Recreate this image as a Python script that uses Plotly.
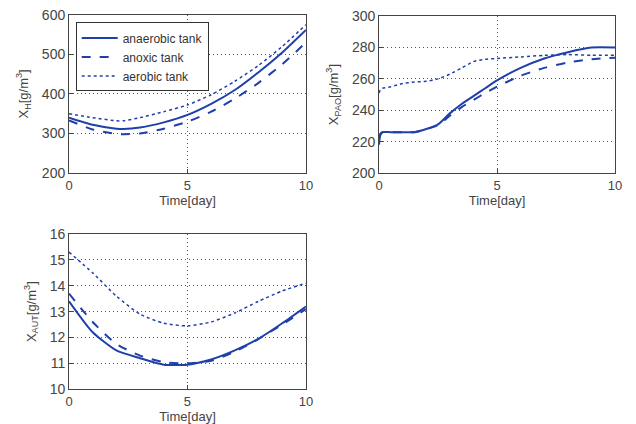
import plotly.graph_objects as go

# ---- data ----
t_h = [0, 1, 2, 2.3, 3, 4, 5, 6, 7, 8, 9, 10]
xh_anaerobic = [340, 322, 312, 311, 315, 328, 347, 375, 410, 455, 505, 562]
xh_anoxic = [333, 310, 299, 298, 300, 312, 330, 355, 388, 428, 475, 530]
xh_aerobic = [350, 340, 332, 332, 340, 355, 372, 398, 432, 472, 520, 575]

t_pao = [0, 0.05, 0.15, 0.5, 1, 1.5, 2, 2.5, 3, 3.5, 4, 4.5, 5, 6, 7, 8, 9, 10]
xpao_anaerobic = [218, 224, 226, 226, 226, 226, 228, 231, 238, 244, 249, 254, 259, 267, 273, 277, 280, 280]
xpao_anoxic = [222, 225, 226, 226, 226, 226, 228, 230.5, 236.5, 242, 246.5, 251, 255, 262, 267, 270.5, 272.5, 273.5]
xpao_aerobic = [251, 253, 254, 255, 257, 258, 258.5, 260, 263, 267, 271, 272.5, 273, 274, 275, 275.5, 275, 275]

t_aut = [0, 1, 2, 3, 4, 5, 6, 7, 8, 9, 10]
xaut_anaerobic = [13.4, 12.2, 11.5, 11.2, 10.95, 10.95, 11.15, 11.5, 11.95, 12.55, 13.2]
xaut_anoxic = [13.7, 12.6, 11.75, 11.3, 11.05, 11.0, 11.1, 11.45, 11.95, 12.5, 13.1]
xaut_aerobic = [15.3, 14.5, 13.6, 12.9, 12.55, 12.45, 12.6, 12.95, 13.4, 13.8, 14.1]

series_names = ["anaerobic tank", "anoxic tank", "aerobic tank"]
x_ticks = [0, 5, 10]

BLUE = "#1f40aa"
styles = [dict(dash="solid", width=2), dict(dash="dash", width=2), dict(dash="dot", width=1.5)]

fig = go.Figure()

panels = [
    ("x", "y", t_h, [xh_anaerobic, xh_anoxic, xh_aerobic]),
    ("x2", "y2", t_pao, [xpao_anaerobic, xpao_anoxic, xpao_aerobic]),
    ("x3", "y3", t_aut, [xaut_anaerobic, xaut_anoxic, xaut_aerobic]),
]
for i, (xa, ya, t, ys) in enumerate(panels):
    for name, yv, st in zip(series_names, ys, styles):
        fig.add_trace(go.Scatter(
            x=t, y=yv, mode="lines", name=name, xaxis=xa, yaxis=ya,
            line=dict(color=BLUE, shape="spline", smoothing=0.6, **st),
            showlegend=(i == 0),
        ))

font = dict(family="Liberation Sans, Arial", size=14, color="#444")
xfont = dict(family="Liberation Sans, Arial", size=13, color="#444")
tfont = dict(family="Liberation Sans, Arial", size=13, color="#444")
common_x = dict(range=[0, 10], tickvals=x_ticks, showline=True, linecolor="#444",
                linewidth=1, mirror=True, ticks="inside", ticklen=4, tickcolor="#444",
                showgrid=True, gridcolor="#555", griddash="1px,3px", gridwidth=1,
                zeroline=False, tickfont=xfont, automargin=False,
                title=dict(text="Time[day]", font=tfont, standoff=1))
common_y = dict(showline=True, linecolor="#444", linewidth=1, mirror=True,
                ticks="inside", ticklen=4, tickcolor="#444",
                showgrid=True, gridcolor="#555", griddash="1px,3px", gridwidth=1,
                zeroline=False, tickfont=font, automargin=False)

fig.update_layout(
    width=636, height=424,
    paper_bgcolor="white", plot_bgcolor="white",
    margin=dict(l=0, r=0, t=0, b=0, autoexpand=False),
    font=font,
    xaxis=dict(domain=[0.1085, 0.481], anchor="y", **common_x),
    yaxis=dict(domain=[0.592, 0.965], anchor="x", range=[200, 600],
               tickvals=[200, 300, 400, 500, 600],
               title=dict(text="X<sub>H</sub>[g/m<sup>3</sup>]", font=tfont, standoff=10),
               **common_y),
    xaxis2=dict(domain=[0.596, 0.967], anchor="y2", **common_x),
    yaxis2=dict(domain=[0.592, 0.962], anchor="x2", range=[200, 300],
                tickvals=[200, 220, 240, 260, 280, 300],
                title=dict(text="X<sub>PAO</sub>[g/m<sup>3</sup>]", font=tfont, standoff=10),
                **common_y),
    xaxis3=dict(domain=[0.1085, 0.481], anchor="y3", **common_x),
    yaxis3=dict(domain=[0.082, 0.448], anchor="x3", range=[10, 16],
                tickvals=[10, 11, 12, 13, 14, 15, 16],
                title=dict(text="X<sub>AUT</sub>[g/m<sup>3</sup>]", font=tfont, standoff=10),
                **common_y),
    legend=dict(x=0.119, y=0.947, xanchor="left", yanchor="top",
                bgcolor="white", bordercolor="#333", borderwidth=1,
                font=dict(family="Liberation Sans, Arial", size=12, color="#333"),
                tracegroupgap=0, itemwidth=36),
)

fig.write_html("out.html", config={"displayModeBar": False},
               post_script="document.body.style.margin='0';document.body.style.overflow='hidden';")
